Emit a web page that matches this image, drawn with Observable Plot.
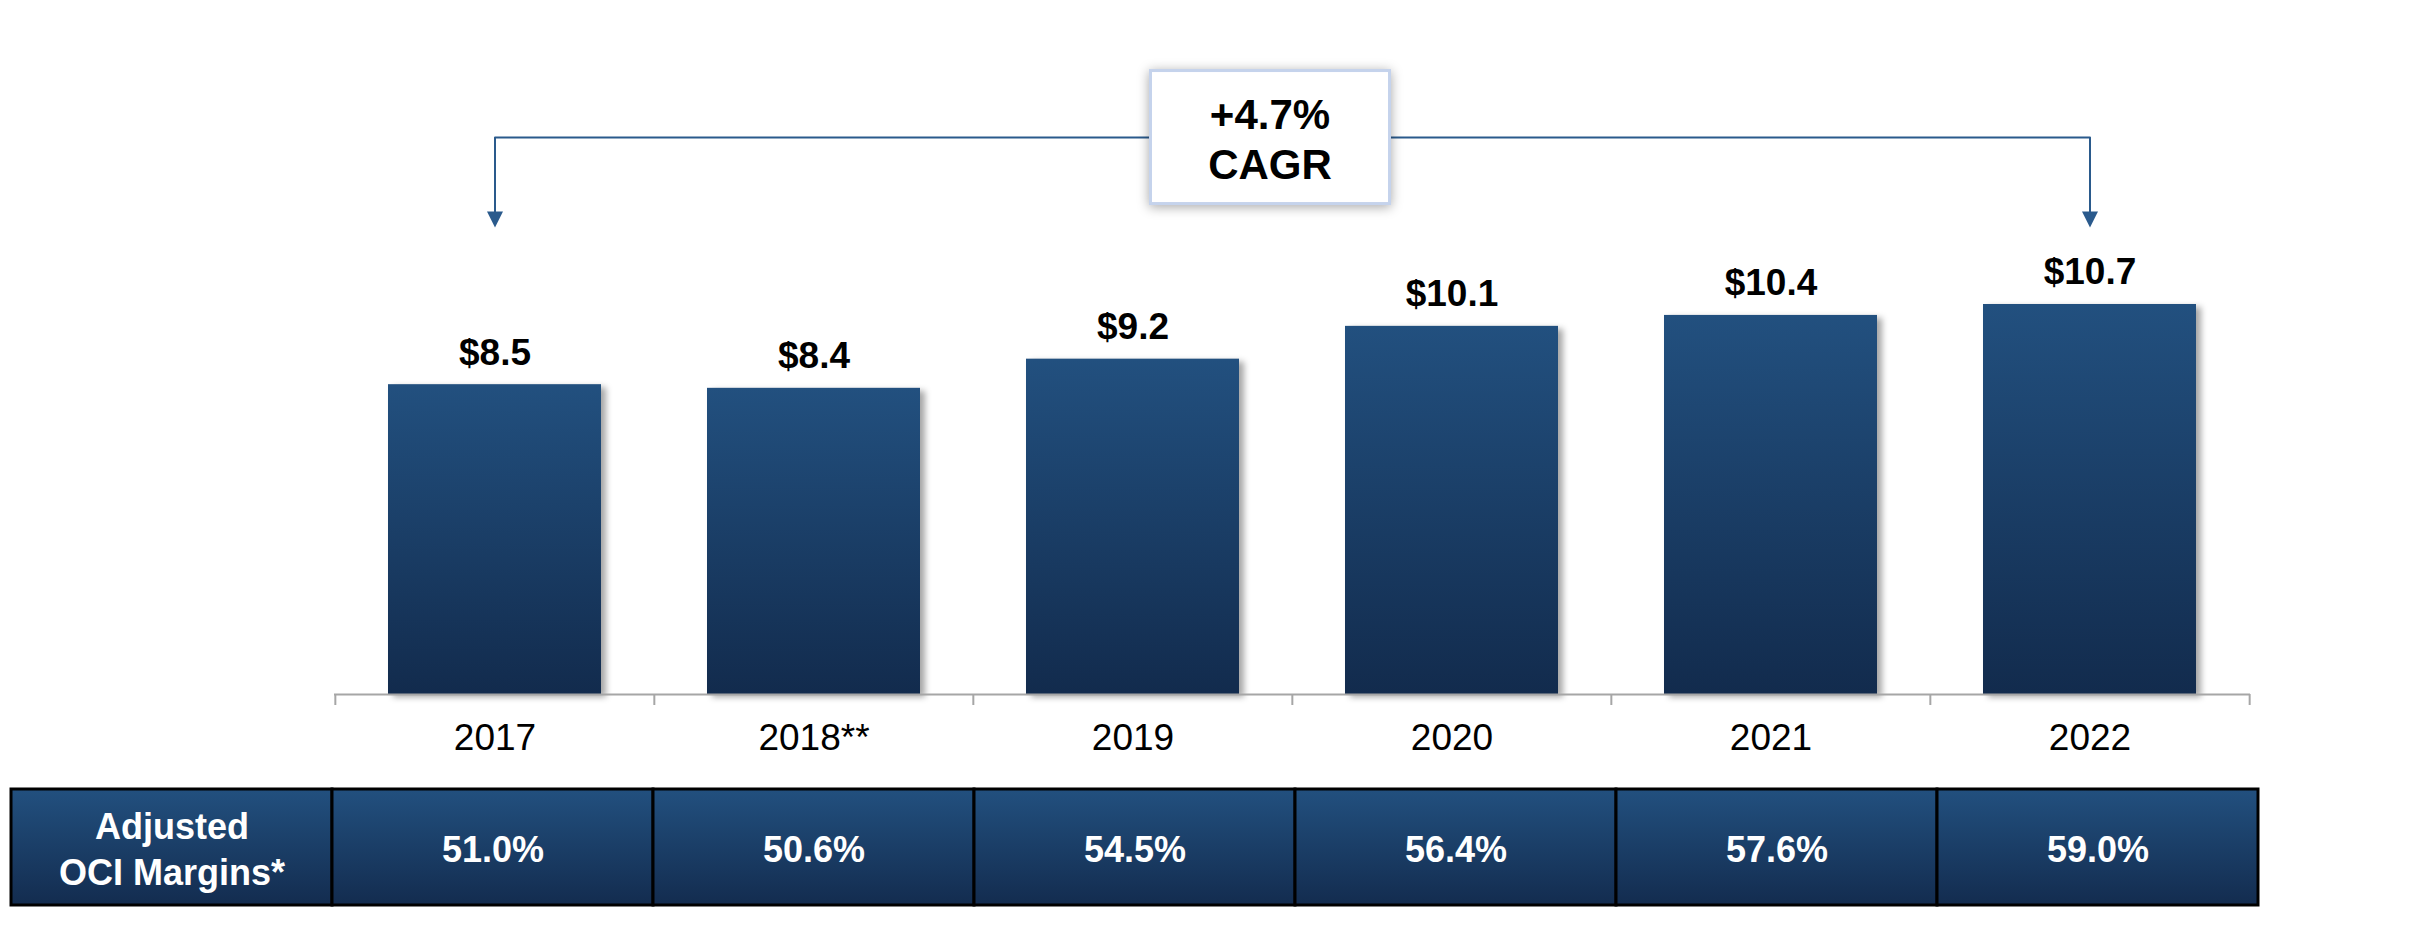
<!DOCTYPE html>
<html>
<head>
<meta charset="utf-8">
<script src="https://cdn.jsdelivr.net/npm/d3@7"></script>
<script src="https://cdn.jsdelivr.net/npm/@observablehq/plot@0.6"></script>
<style>
  html, body { margin: 0; padding: 0; background: #fff; }
  #chart svg { display: block; }
  #chart g[aria-label="bar"] rect { filter: drop-shadow(5px 3px 3px rgba(0,0,0,0.35)); }
</style>
</head>
<body>
<div id="chart"></div>
<script>
// ---- data ----
const years = ["2017", "2018**", "2019", "2020", "2021", "2022"];
const values = [8.5, 8.4, 9.2, 10.1, 10.4, 10.7];
const valueLabels = ["$8.5", "$8.4", "$9.2", "$10.1", "$10.4", "$10.7"];
const rowLabel = "Adjusted\nOCI Margins*";
const margins = ["51.0%", "50.6%", "54.5%", "56.4%", "57.6%", "59.0%"];
const cagrText = ["+4.7%", "CAGR"];
const cagrFrom = "2017";
const cagrTo = "2022";

// ---- layout / style ----
const W = 2416;
const chartH = 760, tableH = 178;
const font = "Liberation Sans, Arial, Helvetica, sans-serif";
const navy = "#22507f";
const lineBlue = "#2a5a8c";
const mL = 334, mR = 166, mB = 66;
const pxPerUnit = 36.45;
const yMax = (chartH - mB) / pxPerUnit;
const step = (W - mL - mR) / years.length;
const tickLen = 11 / pxPerUnit;
const cagrLevel = 15.28;
const tipLevel = 13.03;

const bars = years.map((y, i) => ({year: y, value: values[i], label: valueLabels[i]}));
const bracket = [
  {x: cagrFrom, y: tipLevel}, {x: cagrFrom, y: cagrLevel},
  {x: cagrTo, y: cagrLevel}, {x: cagrTo, y: tipLevel}
];
const tips = [{x: cagrFrom}, {x: cagrTo}];

const downTri = {
  draw(ctx, size) {
    const w = Math.sqrt(size);
    ctx.moveTo(-w / 2, -w / 2);
    ctx.lineTo(w / 2, -w / 2);
    ctx.lineTo(0, w / 2);
    ctx.closePath();
  }
};

function cagrBox(index, scales) {
  const x = scales.x, y = scales.y;
  const bw = x.bandwidth ? x.bandwidth() : 0;
  const cx = (x(cagrFrom) + x(cagrTo) + bw) / 2 - 22;
  const cy = y(cagrLevel);
  const bwid = 239, bh = 133;
  const g = d3.create("svg:g");
  g.append("rect")
    .attr("x", cx - bwid / 2).attr("y", cy - bh / 2)
    .attr("width", bwid).attr("height", bh)
    .attr("fill", "#fff").attr("stroke", "#c5d3ec").attr("stroke-width", 3)
    .style("filter", "drop-shadow(0px 2px 6px rgba(0,0,0,0.35))");
  const t = g.append("text")
    .attr("text-anchor", "middle")
    .attr("font-family", font).attr("font-weight", "bold").attr("font-size", 42)
    .attr("fill", "#000");
  t.append("tspan").attr("x", cx).attr("y", cy - 8).text(cagrText[0]);
  t.append("tspan").attr("x", cx).attr("y", cy + 42).text(cagrText[1]);
  return g.node();
}

function addGrad(svg, id, top, bottom) {
  const defs = d3.select(svg).insert("defs", ":first-child");
  const g = defs.append("linearGradient").attr("id", id)
    .attr("x1", 0).attr("y1", 0).attr("x2", 0).attr("y2", 1);
  g.append("stop").attr("offset", "0%").attr("stop-color", top);
  g.append("stop").attr("offset", "100%").attr("stop-color", bottom);
}

const chart = Plot.plot({
  width: W,
  height: chartH,
  marginLeft: mL,
  marginRight: mR,
  marginTop: 0,
  marginBottom: mB,
  style: {fontFamily: font, background: "#fff", overflow: "visible"},
  x: {type: "band", domain: years, paddingInner: 1 / 3, paddingOuter: 1 / 6, axis: null},
  y: {domain: [0, yMax], axis: null},
  marks: [
    Plot.barY(bars, {x: "year", y: "value", fill: "url(#barGrad)"}),
    Plot.ruleY([0], {stroke: "#a6a6a6", strokeWidth: 2}),
    Plot.ruleX(years, {x: d => d, y1: 0, y2: -tickLen, dx: -step / 2, stroke: "#a6a6a6", strokeWidth: 2}),
    Plot.ruleX([years[years.length - 1]], {x: d => d, y1: 0, y2: -tickLen, dx: step / 2, stroke: "#a6a6a6", strokeWidth: 2}),
    Plot.text(bars, {x: "year", y: "value", text: "label", dy: -32, fontSize: 37, fontWeight: "bold", fill: "#000"}),
    Plot.text(bars, {x: "year", y: 0, text: "year", dy: 44, fontSize: 37, fill: "#000"}),
    Plot.line(bracket, {x: "x", y: "y", stroke: lineBlue, strokeWidth: 2, curve: "linear"}),
    Plot.dot(tips, {x: "x", y: tipLevel, symbol: downTri, r: 9, fill: lineBlue, stroke: "none"}),
    cagrBox
  ]
});
addGrad(chart, "barGrad", "#22507f", "#122b4d");

const tableRows = [{col: "label", text: rowLabel}].concat(
  years.map((y, i) => ({col: y, text: margins[i]}))
);

const table = Plot.plot({
  width: W,
  height: tableH,
  marginLeft: 9,
  marginRight: 156,
  marginTop: 29,
  marginBottom: 33,
  style: {fontFamily: font, background: "#fff", overflow: "visible"},
  x: {type: "band", domain: tableRows.map(d => d.col), padding: 0, axis: null},
  y: {type: "band", domain: ["row"], padding: 0, axis: null},
  marks: [
    Plot.cell(tableRows, {x: "col", y: () => "row", fill: "url(#tblGrad)", stroke: "#000", strokeWidth: 3}),
    Plot.text(tableRows, {x: "col", y: () => "row", text: "text", fill: "#fff", fontWeight: "bold", fontSize: 36, lineHeight: 1.28})
  ]
});
addGrad(table, "tblGrad", "#22507f", "#132c4f");

document.getElementById("chart").append(chart, table);
</script>
</body>
</html>
